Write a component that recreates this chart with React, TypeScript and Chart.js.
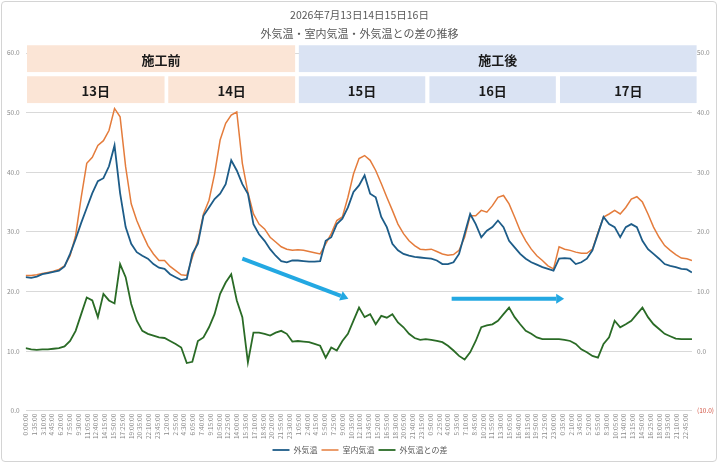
import { useEffect, useRef } from 'react'
import { Chart, registerables } from 'chart.js'

Chart.register(...registerables)
Chart.defaults.font.family = '"Noto Sans CJK JP", "Noto Sans", sans-serif'

// samples are every 5 minutes; one x unit = one sample, 288 per day
const SAMPLES = 1440
const TICK_STEP = 19 // a tick label every 95 minutes

const TITLE = ['2026年7月13日14日15日16日', '外気温・室内気温・外気温との差の推移']
const SERIES_NAMES = ['外気温', '室内気温', '外気温との差']

// hourly readings, 13日 0:00 .. 17日 23:00, plus the last sample (22:55 of 17日)
const OUTDOOR = [
  22.4, 22.3, 22.5, 22.9, 23.1, 23.3, 23.5, 24.2, 26.3, 28.8, 31.5, 34.0, 36.5, 38.5, 39.0, 41.0, 44.5, 36.5, 30.8, 28.0, 26.6, 26.0, 25.5, 24.6,
  24.0, 23.8, 22.9, 22.4, 21.9, 22.1, 26.3, 28.0, 32.7, 34.1, 35.5, 36.4, 38.0, 42.0, 40.3, 38.0, 36.4, 31.3, 29.6, 28.5, 27.1, 26.0, 25.1, 24.9,
  25.2, 25.2, 25.1, 25.0, 25.0, 25.1, 28.5, 29.1, 31.3, 32.2, 34.1, 36.7, 37.8, 39.5, 36.4, 35.8, 32.5, 30.8, 28.0, 26.9, 26.3, 26.0, 25.8, 25.7,
  25.6, 25.5, 25.2, 24.6, 24.6, 24.9, 26.3, 29.7, 33.0, 31.3, 29.1, 30.2, 30.8, 31.9, 30.8, 28.5, 27.4, 26.3, 25.5, 24.9, 24.5, 24.1, 23.8, 23.5,
  25.5, 25.6, 25.5, 24.6, 24.9, 25.5, 26.9, 29.7, 32.5, 31.3, 30.8, 29.1, 30.8, 31.3, 30.8, 28.5, 27.1, 26.3, 25.5, 24.6, 24.3, 24.1, 23.8, 23.7,
  23.2,
]
const INDOOR = [
  22.7, 22.7, 22.8, 23.0, 23.2, 23.4, 23.7, 24.3, 26.0, 29.4, 35.8, 41.5, 42.5, 44.5, 45.3, 47.0, 50.7, 49.3, 40.9, 34.7, 31.9, 29.7, 27.7, 26.3,
  25.2, 25.2, 24.2, 23.5, 22.8, 22.7, 25.7, 28.5, 33.0, 35.3, 39.7, 45.4, 48.2, 49.6, 50.1, 41.5, 36.6, 33.0, 31.3, 30.5, 29.1, 28.3, 27.5, 27.1,
  26.9, 27.0, 26.9, 26.7, 26.5, 26.3, 28.0, 29.7, 31.9, 32.5, 35.8, 39.7, 42.3, 42.8, 42.0, 40.3, 38.1, 35.8, 33.6, 31.3, 29.7, 28.5, 27.7, 27.1,
  27.0, 27.1, 26.7, 26.3, 26.1, 26.2, 26.9, 29.1, 32.7, 32.7, 33.6, 33.3, 34.4, 35.8, 36.1, 34.7, 32.5, 30.2, 28.5, 27.1, 26.0, 25.2, 24.3, 23.8,
  27.5, 27.1, 26.9, 26.6, 26.4, 26.4, 27.1, 29.9, 32.5, 33.0, 33.6, 33.0, 34.1, 35.5, 35.9, 35.0, 33.0, 30.8, 29.1, 27.7, 26.9, 26.2, 25.6, 25.5,
  25.2,
]
// right axis
const DIFF = [
  0.5, 0.3, 0.2, 0.3, 0.3, 0.4, 0.5, 0.8, 1.7, 3.4, 6.2, 9.0, 8.5, 5.7, 9.6, 8.5, 8.0, 14.6, 12.4, 7.9, 5.1, 3.4, 2.9, 2.6,
  2.3, 2.2, 1.7, 1.2, 0.6, -2.0, -1.8, 1.7, 2.3, 4.0, 6.2, 9.6, 11.5, 12.9, 8.5, 5.7, -1.9, 3.1, 3.1, 2.9, 2.6, 3.1, 3.4, 2.9,
  1.6, 1.7, 1.6, 1.5, 1.2, 0.9, -1.1, 0.6, 0.1, 1.7, 2.9, 5.1, 7.3, 5.7, 6.2, 4.5, 5.9, 5.6, 6.2, 4.8, 4.0, 2.9, 2.2, 1.9,
  2.0, 1.9, 1.7, 1.5, 0.9, 0.1, -0.8, -1.4, -0.2, 1.7, 4.0, 4.3, 4.5, 5.1, 6.2, 7.3, 5.7, 4.5, 3.4, 2.9, 2.3, 2.0, 2.0, 2.0,
  2.0, 1.9, 1.7, 1.2, 0.3, -0.2, -0.8, -1.1, 1.2, 2.3, 5.1, 4.0, 4.5, 5.1, 6.2, 7.3, 5.7, 4.5, 3.7, 2.9, 2.5, 2.1, 2.0, 2.0,
  2.0,
]

// "h:mm:00" every 95 minutes
const TICK_LABELS: string[] = []
for (let i = 0; i < SAMPLES; i += TICK_STEP) {
  const m = (i * 5) % 1440
  TICK_LABELS.push(`${Math.floor(m / 60)}:${String(m % 60).padStart(2, '0')}:00`)
}

const BLUE = '#1d5c88'
const ORANGE = '#e47c3c'
const GREEN = '#2a6b26'
const GRAY = '#8a8a8a'
const RED = '#d0503f'
const PEACH = '#fbe5d6'
const PALE_BLUE = '#dae3f3'
const ARROW = '#23a8e2'

// header boxes, x in samples, y in left-axis units
const PHASES = [
  { label: '施工前', from: 3, to: 582, fill: PEACH },
  { label: '施工後', from: 590, to: 1449, fill: PALE_BLUE },
]
const DAYS = [
  { label: '13日', from: 3, to: 300, fill: PEACH },
  { label: '14日', from: 308, to: 582, fill: PEACH },
  { label: '15日', from: 590, to: 863, fill: PALE_BLUE },
  { label: '16日', from: 872, to: 1145, fill: PALE_BLUE },
  { label: '17日', from: 1154, to: 1449, fill: PALE_BLUE },
]
const ARROWS = [
  { x0: 468, y0: 25.5, x1: 697, y1: 18.8 },
  { x0: 920, y0: 18.8, x1: 1163, y1: 18.8 },
]

const toPoints = (vals: number[]) =>
  vals.map((y, i) => ({ x: Math.min(i * 12, SAMPLES - 1), y }))

const decorations = {
  id: 'decorations',
  beforeInit(chart: any) {
    // keep the legend strip short so the plot reaches down like the original
    const lg = chart.legend
    if (!lg) return
    const fit = lg.fit
    lg.fit = function () {
      fit.call(this)
      this.height = 22
    }
  },
  beforeDatasetsDraw(chart: Chart) {
    const { ctx } = chart
    const xs = chart.scales.x
    const ys = chart.scales.y
    const row = (items: typeof DAYS, top: number, bottom: number) => {
      items.forEach((b) => {
        const x0 = xs.getPixelForValue(b.from)
        const x1 = xs.getPixelForValue(b.to)
        const y0 = ys.getPixelForValue(top)
        const y1 = ys.getPixelForValue(bottom)
        ctx.fillStyle = b.fill
        ctx.fillRect(x0, y0, x1 - x0, y1 - y0)
        ctx.fillStyle = '#1a1a1a'
        ctx.font = 'bold 13px "Noto Sans CJK JP"'
        ctx.textAlign = 'center'
        ctx.textBaseline = 'middle'
        ctx.fillText(b.label, (x0 + x1) / 2, (y0 + y1) / 2 + 1)
      })
    }
    ctx.save()
    row(PHASES, 61.3, 56.8)
    row(DAYS, 56.1, 51.6)
    ctx.restore()
  },
  afterDatasetsDraw(chart: Chart) {
    const { ctx } = chart
    const xs = chart.scales.x
    const ys = chart.scales.y
    ctx.save()
    ctx.strokeStyle = ARROW
    ctx.fillStyle = ARROW
    ctx.lineWidth = 4
    ARROWS.forEach((a) => {
      const x0 = xs.getPixelForValue(a.x0)
      const y0 = ys.getPixelForValue(a.y0)
      const x1 = xs.getPixelForValue(a.x1)
      const y1 = ys.getPixelForValue(a.y1)
      const ang = Math.atan2(y1 - y0, x1 - x0)
      const head = 8
      const bx = x1 - head * Math.cos(ang)
      const by = y1 - head * Math.sin(ang)
      ctx.beginPath()
      ctx.moveTo(x0, y0)
      ctx.lineTo(bx, by)
      ctx.stroke()
      ctx.beginPath()
      ctx.moveTo(x1, y1)
      ctx.lineTo(bx + 5 * Math.sin(ang), by - 5 * Math.cos(ang))
      ctx.lineTo(bx - 5 * Math.sin(ang), by + 5 * Math.cos(ang))
      ctx.closePath()
      ctx.fill()
    })
    ctx.restore()
  },
  afterDraw(chart: Chart) {
    const { ctx } = chart
    ctx.save()
    ctx.fillStyle = '#595959'
    ctx.textAlign = 'center'
    ctx.textBaseline = 'middle'
    ctx.font = '10.5px "Noto Sans CJK JP"'
    ctx.fillText(TITLE[0], chart.width / 2, 15)
    ctx.font = '11px "Noto Sans CJK JP"'
    ctx.fillText(TITLE[1], chart.width / 2, 34)
    ctx.restore()
  },
}

export default function App() {
  const ref = useRef<HTMLCanvasElement>(null)

  useEffect(() => {
    if (!ref.current) return
    const line = (label: string, vals: number[], color: string, width: number, axis: string) => ({
      label,
      data: toPoints(vals),
      borderColor: color,
      backgroundColor: color,
      borderWidth: width,
      pointRadius: 0,
      tension: 0,
      yAxisID: axis,
    })
    const chart = new Chart(ref.current, {
      type: 'line',
      data: {
        datasets: [
          line(SERIES_NAMES[0], OUTDOOR, BLUE, 1.8, 'y'),
          line(SERIES_NAMES[1], INDOOR, ORANGE, 1.5, 'y'),
          line(SERIES_NAMES[2], DIFF, GREEN, 1.8, 'y2'),
        ],
      },
      options: {
        animation: false,
        responsive: false,
        layout: { padding: { left: 1, right: 0, top: 53, bottom: 0 } },
        scales: {
          x: {
            type: 'linear',
            min: 0,
            max: SAMPLES - 1,
            bounds: 'data',
            grid: { display: false, drawTicks: false },
            border: { display: false },
            afterBuildTicks: (s: any) => {
              s.ticks = TICK_LABELS.map((_, k) => ({ value: k * TICK_STEP }))
            },
            ticks: {
              autoSkip: false,
              minRotation: 90,
              maxRotation: 90,
              padding: 3,
              color: GRAY,
              font: { size: 6.5 },
              callback: (_v: any, i: number) => TICK_LABELS[i],
            },
          },
          y: {
            position: 'left',
            min: 0,
            max: 60,
            grid: { color: '#d9d9d9', drawTicks: false },
            border: { display: false },
            ticks: {
              stepSize: 10,
              padding: 6,
              color: GRAY,
              font: { size: 6.5 },
              callback: (v: any) => Number(v).toFixed(1),
            },
          },
          y2: {
            position: 'right',
            min: -10,
            max: 50,
            grid: { display: false, drawTicks: false },
            border: { display: false },
            ticks: {
              stepSize: 10,
              padding: 5,
              font: { size: 6.5 },
              color: (c: any) => (c.tick && c.tick.value < 0 ? RED : GRAY),
              callback: (v: any) => (v < 0 ? `(${Math.abs(v).toFixed(1)})` : Number(v).toFixed(1)),
            },
          },
        },
        plugins: {
          title: { display: false },
          tooltip: { enabled: false },
          legend: {
            position: 'bottom',
            labels: {
              usePointStyle: true,
              pointStyle: 'line',
              pointStyleWidth: 17,
              color: '#595959',
              font: { size: 8 },
              padding: 4,
            },
          },
        },
      },
      plugins: [decorations],
    } as any)
    return () => chart.destroy()
  }, [])

  return (
    <div style={{ position: 'fixed', left: 0, top: 0, width: 719, height: 464, background: '#fff' }}>
      <div
        style={{
          position: 'absolute',
          left: 1,
          top: 1,
          width: 716,
          height: 461,
          boxSizing: 'border-box',
          border: '1px solid #d4d4d4',
          borderRadius: 4,
        }}
      />
      <canvas ref={ref} width={719} height={464} style={{ position: 'absolute', left: 0, top: 0 }} />
    </div>
  )
}
